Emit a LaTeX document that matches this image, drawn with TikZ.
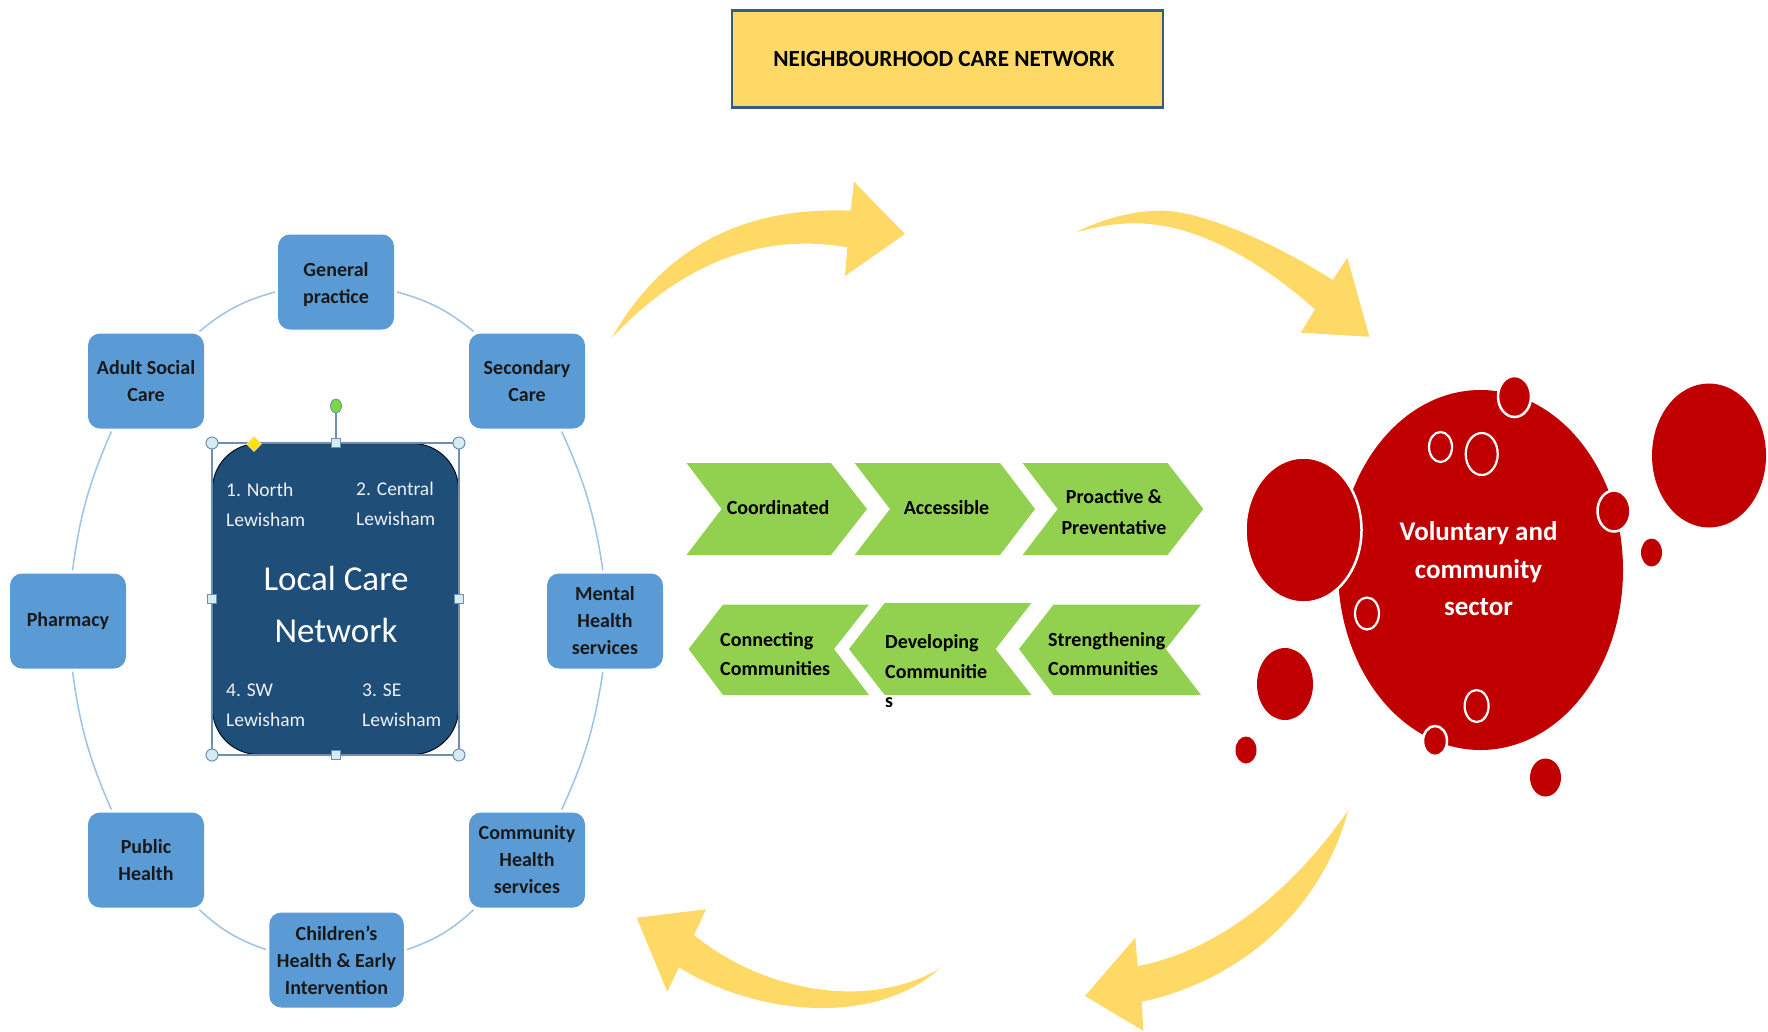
\documentclass[tikz,border=0pt]{standalone}
\usepackage{fontspec}
\setmainfont{Carlito}
\usetikzlibrary{shapes.geometric}
\definecolor{arrowyel}{HTML}{FFD966}
\definecolor{boxblue}{HTML}{5B9BD5}
\definecolor{darkblue}{HTML}{1F4E79}
\definecolor{ringblue}{HTML}{9DC3E6}
\definecolor{chevgreen}{HTML}{92D050}
\definecolor{cred}{HTML}{C00000}
\definecolor{handlefill}{HTML}{D6ECF3}
\definecolor{handleline}{HTML}{6F8FB0}
\tikzset{
  x=1pt,y=-1pt,
  bluebox/.style={rectangle,rounded corners=12pt,fill=boxblue,inner sep=0pt,minimum height=95pt,minimum width=116pt,align=center,font=\fontsize{20}{27}\selectfont\bfseries,text=black!90},
  ring/.style={draw=ringblue,line width=1.5pt,shorten <=3pt,shorten >=3pt},
  yelarrow/.style={fill=arrowyel},
  chevron/.style={fill=chevgreen},
  chevtext/.style={inner sep=0pt,align=left,font=\fontsize{20}{29.5}\selectfont\bfseries,text=black},
  areatext/.style={inner sep=0pt,align=left,anchor=west,font=\fontsize{19.5}{29.5}\selectfont,text=white!92!darkblue},
  redblob/.style={fill=cred},
  redhalo/.style={fill=cred,draw=white,line width=2.5pt},
  whitering/.style={draw=white,line width=2.2pt},
  cornerhandle/.style={circle,fill=handlefill,draw=handleline,line width=1pt,minimum size=12pt,inner sep=0pt},
  sidehandle/.style={rectangle,fill=handlefill,draw=handleline,line width=1pt,minimum size=9pt,inner sep=0pt},
}
\begin{document}
\begin{tikzpicture}
\useasboundingbox[fill=white] (0,0) rectangle (1768,1031);

% title
\node[rectangle,fill=arrowyel,draw=black!30!boxblue!85!black,line width=2.5pt,minimum width=431pt,minimum height=97pt,inner sep=0pt,font=\fontsize{23.2}{28}\selectfont\bfseries,text=black] (title) at (947.5,59) {NEIGHBOURHOOD CARE NETWORK\kern7pt};

% ring of services
\node[bluebox] (gp) at (336,282) {\rule{0pt}{20pt}General\\practice};
\node[bluebox] (as) at (146,381) {Adult Social\\Care};
\node[bluebox] (sc) at (527,381) {Secondary\\Care};
\node[bluebox] (mh) at (605,621) {Mental\\Health\\services};
\node[bluebox] (ph) at (68,621) {Pharmacy};
\node[bluebox] (pu) at (146,860) {Public\\Health};
\node[bluebox] (ch) at (527,860) {Community\\Health\\services};
\node[bluebox,minimum width=134.5pt] (cy) at (336.5,960) {Children’s\\Health \& Early\\Intervention};

\draw[ring] (as.43) to[bend left=12] (gp.189);
\draw[ring] (gp.-9) to[bend left=12] (sc.137);
\draw[ring] (sc.-55) to[bend left=8] (mh.92);
\draw[ring] (mh.-92) to[bend left=8] (ch.55);
\draw[ring] (ch.-137) to[bend left=12] (cy.8);
\draw[ring] (cy.172) to[bend left=12] (pu.-43);
\draw[ring] (pu.125) to[bend left=8] (ph.-85);
\draw[ring] (ph.85) to[bend left=8] (as.-125);

% central node
\node[rectangle,rounded corners=46pt,fill=darkblue,draw=black!80!darkblue,line width=1pt,minimum width=246pt,minimum height=311pt,inner sep=0pt] (lcn) at (335.5,599) {};
\node[inner sep=0pt,align=center,font=\fontsize{35}{52}\selectfont,text=white] (lcntext) at (336,604) {Local Care\\Network};
\node[areatext] (a1) at (226,505) {1. North\\Lewisham};
\node[areatext] (a2) at (356,504) {2. Central\\Lewisham};
\node[areatext] (a4) at (226,705) {4. SW\\Lewisham};
\node[areatext] (a3) at (362,705) {3. SE\\Lewisham};

% selection frame
\coordinate (fnw) at (212,443);
\coordinate (fse) at (459,755);
\draw[draw=handleline,line width=1.2pt] (fnw) rectangle (fse);
\node[cornerhandle] (h1) at (212,443) {};
\node[cornerhandle] (h2) at (459,443) {};
\node[cornerhandle] (h3) at (212,755) {};
\node[cornerhandle] (h4) at (459,755) {};
\node[sidehandle] (h5) at (336,443) {};
\node[sidehandle] (h6) at (336,755) {};
\node[sidehandle] (h7) at (212,599) {};
\node[sidehandle] (h8) at (459,599) {};
\node[ellipse,fill=chevgreen!85!green,draw=handleline,line width=.8pt,minimum width=11pt,minimum height=14pt,inner sep=0pt] (rot) at (336,406) {};
\draw[draw=handleline,line width=1.2pt] (rot) -- (h5);
\node[diamond,aspect=1,fill=yellow!85!orange,draw=white!70!orange,line width=.8pt,minimum size=15pt,inner sep=0pt] (adj) at (254,444) {};

% chevrons, upper row
\fill[chevron] (686.5,463) -- (831,463) -- (867,509) -- (831,555) -- (686.5,555) -- (721.6,509) -- cycle;
\fill[chevron] (854.6,463) -- (1000,463) -- (1035,509) -- (1000,555) -- (854.6,555) -- (890,509) -- cycle;
\fill[chevron] (1022.6,463) -- (1167.5,463) -- (1203.3,509) -- (1167.5,555) -- (1022.6,555) -- (1057.7,509) -- cycle;
\node[chevtext] (c1) at (778,507.5) {Coordinated};
\node[chevtext] (c2) at (946.5,507.5) {Accessible};
\node[chevtext,align=center,font=\fontsize{20}{31}\selectfont\bfseries] (c3) at (1114,512) {Proactive \&\\Preventative};

% chevrons, lower row
\fill[chevron] (869,604.6) -- (723,604.6) -- (688.6,649) -- (723,695) -- (869,695) -- (834,649) -- cycle;
\fill[chevron] (1031.4,603) -- (884.7,603) -- (849,649) -- (884.7,695) -- (1031.4,695) -- (995.6,649) -- cycle;
\fill[chevron] (1201,604.6) -- (1053.5,604.6) -- (1019,649) -- (1053.5,695) -- (1201,695) -- (1165.8,649) -- cycle;
\node[chevtext,anchor=west] (c4) at (720,654) {Connecting\\Communities};
\node[chevtext,anchor=north west] (c5) at (885,634.5) {Developing\\Communitie\\s};
\node[chevtext,anchor=west] (c6) at (1048,654) {Strengthening\\Communities};

% yellow curved arrows
\fill[yelarrow] (611.7,338) .. controls (670,235) and (760,207) .. (850.7,210.7) -- (854,181.7) -- (905,234) -- (845,276) -- (847.3,247.3) .. controls (760,232) and (680,265) .. (611.7,338) -- cycle;
\fill[yelarrow] (1076,232.3) .. controls (1100,220) and (1130,211) .. (1160,210.7) .. controls (1200,210) and (1275,243) .. (1332.7,280) -- (1347.3,257.7) -- (1369.3,336.7) -- (1300.7,332.7) -- (1315,309.3) .. controls (1265,265) and (1200,224) .. (1136.7,223.3) .. controls (1115,223) and (1095,227) .. (1076,232.3) -- cycle;
\fill[yelarrow] (1348.3,810) .. controls (1320,915) and (1235,982) .. (1141.7,1001.7) -- (1143.3,1030.7) -- (1085,996) -- (1135.3,937.7) -- (1137.7,966) .. controls (1215,952) and (1292,892) .. (1348.3,810) -- cycle;
\fill[yelarrow] (940,968.3) .. controls (870,1010) and (765,993) .. (694,935) -- (706,909.3) -- (636.7,917.7) -- (667.3,991.7) -- (679,967.3) .. controls (750,1012) and (870,1030) .. (940,968.3) -- cycle;

% red bubbles
\node[ellipse,fill=cred,minimum width=285pt,minimum height=360pt,inner sep=0pt] (vcs) at (1480.5,570) {};
\node[inner sep=0pt,align=center,font=\fontsize{27}{37.5}\selectfont\bfseries,text=white] (vcstext) at (1478.5,569) {Voluntary and\\community\\sector};
\draw[redhalo] (1303.5,530) ellipse (58 and 72.5);
\fill[redblob] (1709,455.5) ellipse (57 and 72);
\draw[redhalo] (1514.5,396.5) ellipse (16.5 and 20.5);
\draw[redhalo] (1614,511) ellipse (16.5 and 20.5);
\draw[redhalo] (1435,741) ellipse (12 and 15);
\fill[redblob] (1651.5,552.5) ellipse (10.5 and 14);
\fill[redblob] (1285,684) ellipse (28 and 36);
\fill[redblob] (1246,750) ellipse (10.5 and 13.5);
\fill[redblob] (1545.5,777.5) ellipse (15.5 and 19);
\draw[whitering] (1440.5,447) ellipse (11.5 and 15);
\draw[whitering] (1481.7,454) ellipse (16 and 21);
\draw[whitering] (1367,613.5) ellipse (12 and 16);
\draw[whitering] (1476.6,706) ellipse (12 and 16);
\end{tikzpicture}
\end{document}
